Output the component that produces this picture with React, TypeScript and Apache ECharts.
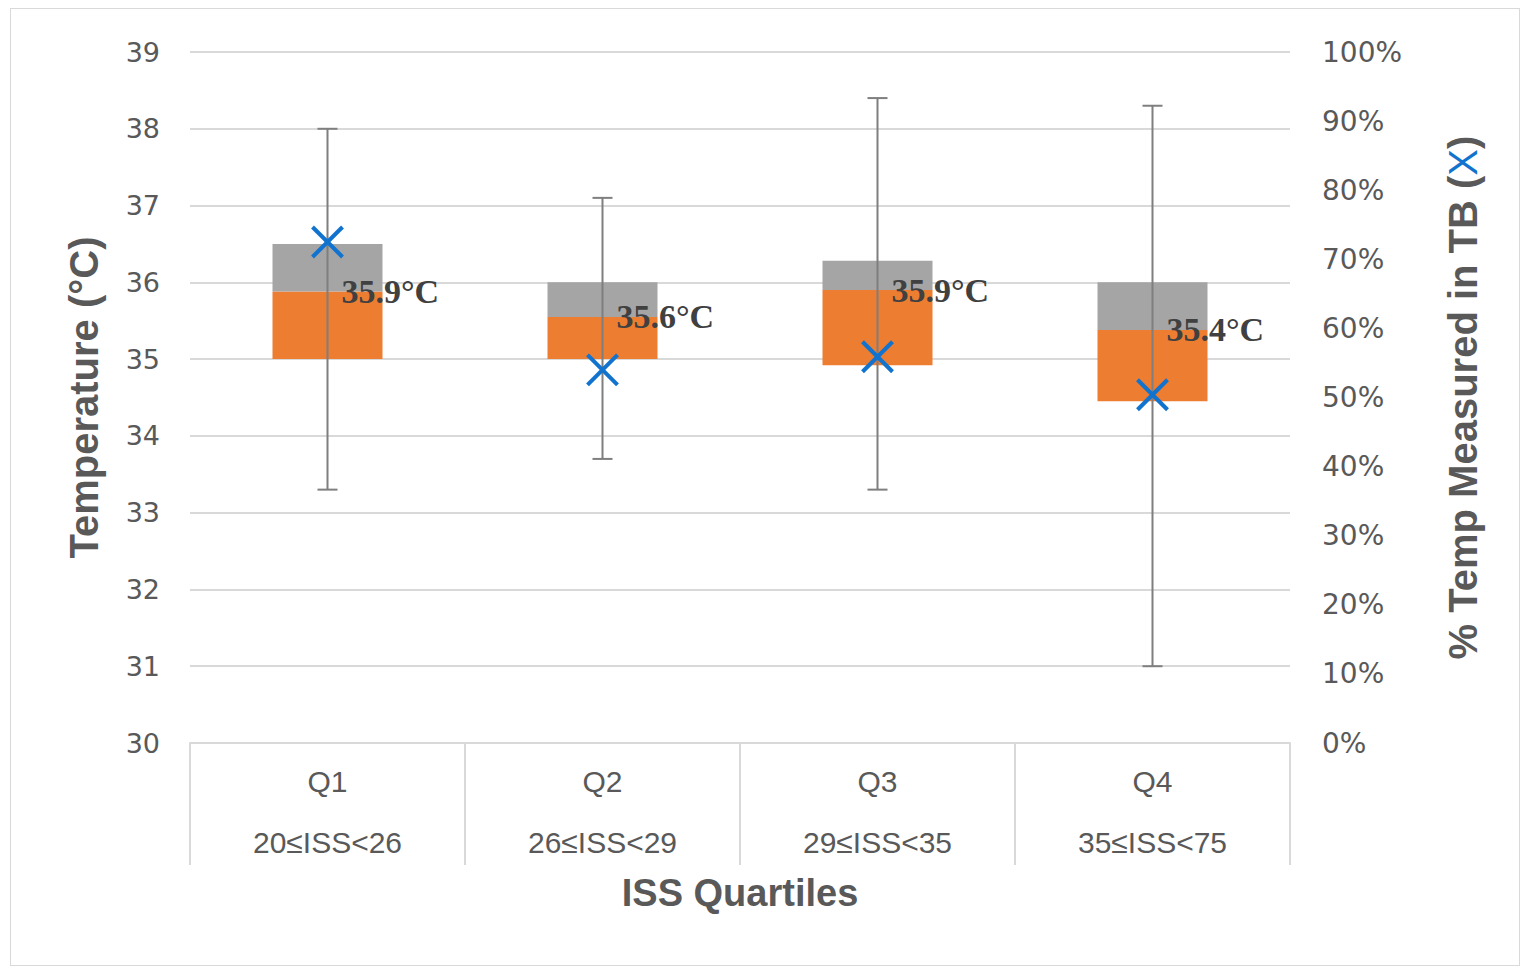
import React, { useEffect, useRef } from 'react';
import * as echarts from 'echarts';

// ---- data ----
const quartiles = ['Q1', 'Q2', 'Q3', 'Q4'];
const issRanges = ['20≤ISS<26', '26≤ISS<29', '29≤ISS<35', '35≤ISS<75'];
const whiskerLow = [33.3, 33.7, 33.3, 31.0];
const whiskerHigh = [38.0, 37.1, 38.4, 38.3];
const boxLow = [35.0, 35.0, 34.92, 34.45];
const medianTemp = [35.88, 35.55, 35.9, 35.38];
const boxHigh = [36.5, 36.0, 36.28, 36.0];
const medianLabels = ['35.9°C', '35.6°C', '35.9°C', '35.4°C'];
const pctMeasuredTB = [0.725, 0.54, 0.559, 0.504];

const tempMin = 30;
const tempMax = 39;
const tempStep = 1;
const pctMin = 0;
const pctMax = 1;
const pctStep = 0.1;

const ORANGE = '#ED7D31';
const GRAY = '#A5A5A5';
const WHISKER = '#7F7F7F';
const BLUE = '#1273CF';
const TEXT = '#595959';
const GRID = '#D9D9D9';

export default function App() {
  const ref = useRef<HTMLDivElement>(null);

  useEffect(() => {
    if (!ref.current) return;
    const chart = echarts.init(ref.current, undefined, { renderer: 'svg' });

    const boxData = quartiles.map((_, i) => [
      i,
      whiskerLow[i],
      boxLow[i],
      medianTemp[i],
      boxHigh[i],
      whiskerHigh[i],
    ]);
    const xData = quartiles.map((_, i) => [i, pctMeasuredTB[i]]);

    const option: any = {
      animation: false,
      backgroundColor: '#ffffff',
      grid: { left: 179, right: 229, top: 43, bottom: 222, containLabel: false },
      xAxis: {
        type: 'category',
        data: quartiles,
        boundaryGap: true,
        axisLine: { show: true, lineStyle: { color: GRID, width: 2 } },
        axisTick: {
          show: true,
          interval: 0,
          length: 122,
          lineStyle: { color: GRID, width: 2 },
        },
        axisLabel: {
          interval: 0,
          margin: 8,
          formatter: (v: string, idx: number) => `{q|${v}}\n{r|${issRanges[idx]}}`,
          rich: {
            q: { fontSize: 30, fontFamily: 'Liberation Sans', color: TEXT, lineHeight: 61 },
            r: { fontSize: 30, fontFamily: 'Liberation Sans', color: TEXT, lineHeight: 61 },
          },
        },
        name: 'ISS Quartiles',
        nameLocation: 'middle',
        nameGap: 131,
        nameTextStyle: {
          fontSize: 38,
          fontWeight: 'bold',
          fontFamily: 'Liberation Sans',
          color: TEXT,
        },
      },
      yAxis: [
        {
          type: 'value',
          min: tempMin,
          max: tempMax,
          interval: tempStep,
          position: 'left',
          axisLine: { show: false },
          axisTick: { show: false },
          splitLine: { show: true, lineStyle: { color: GRID, width: 2 } },
          axisLabel: {
            margin: 30,
            fontSize: 27,
            fontFamily: 'DejaVu Sans',
            color: TEXT,
          },
          name: 'Temperature (°C)',
          nameLocation: 'middle',
          nameRotate: 90,
          nameGap: 86,
          nameTextStyle: {
            fontSize: 40,
            fontWeight: 'bold',
            fontFamily: 'Liberation Sans',
            color: TEXT,
          },
        },
        {
          type: 'value',
          min: pctMin,
          max: pctMax,
          interval: pctStep,
          position: 'right',
          axisLine: { show: false },
          axisTick: { show: false },
          splitLine: { show: false },
          axisLabel: {
            margin: 32,
            fontSize: 28,
            fontFamily: 'DejaVu Sans',
            color: TEXT,
            formatter: (v: number) => `${Math.round(v * 100)}%`,
          },
          name: '% Temp Measured in TB ({x|X})',
          nameLocation: 'middle',
          nameRotate: 90,
          nameGap: 153,
          nameTextStyle: {
            fontSize: 40,
            fontWeight: 'bold',
            fontFamily: 'Liberation Sans',
            color: TEXT,
            rich: {
              x: {
                fontSize: 40,
                fontWeight: 'normal',
                fontFamily: 'Liberation Sans',
                color: BLUE,
              },
            },
          },
        },
      ],
      series: [
        {
          type: 'custom',
          name: 'Temperature',
          coordinateSystem: 'cartesian2d',
          xAxisIndex: 0,
          yAxisIndex: 0,
          encode: { x: 0, y: [1, 2, 3, 4, 5] },
          data: boxData,
          z: 2,
          renderItem: (params: any, api: any) => {
            const i = api.value(0);
            const cx = api.coord([i, api.value(3)])[0];
            const yWL = api.coord([i, api.value(1)])[1];
            const yBL = api.coord([i, api.value(2)])[1];
            const yMed = api.coord([i, api.value(3)])[1];
            const yBH = api.coord([i, api.value(4)])[1];
            const yWH = api.coord([i, api.value(5)])[1];
            const bw = api.size([1, 0])[0];
            const half = bw * 0.2;
            const cap = 10;
            return {
              type: 'group',
              children: [
                {
                  type: 'rect',
                  shape: { x: cx - half, y: yMed, width: half * 2, height: yBL - yMed },
                  style: { fill: ORANGE },
                },
                {
                  type: 'rect',
                  shape: { x: cx - half, y: yBH, width: half * 2, height: yMed - yBH },
                  style: { fill: GRAY },
                },
                {
                  type: 'line',
                  shape: { x1: cx, y1: yWL, x2: cx, y2: yWH },
                  style: { stroke: WHISKER, lineWidth: 2 },
                },
                {
                  type: 'line',
                  shape: { x1: cx - cap, y1: yWH, x2: cx + cap, y2: yWH },
                  style: { stroke: WHISKER, lineWidth: 2 },
                },
                {
                  type: 'line',
                  shape: { x1: cx - cap, y1: yWL, x2: cx + cap, y2: yWL },
                  style: { stroke: WHISKER, lineWidth: 2 },
                },
                {
                  type: 'text',
                  x: cx + 14,
                  y: yMed,
                  style: {
                    text: medianLabels[params.dataIndex],
                    fill: '#404040',
                    fontSize: 34,
                    fontWeight: 'bold',
                    fontFamily: 'Liberation Serif',
                    align: 'left',
                    verticalAlign: 'middle',
                  },
                },
              ],
            };
          },
        },
        {
          type: 'custom',
          name: '% Temp Measured in TB',
          coordinateSystem: 'cartesian2d',
          xAxisIndex: 0,
          yAxisIndex: 1,
          encode: { x: 0, y: 1 },
          data: xData,
          z: 5,
          renderItem: (params: any, api: any) => {
            const p = api.coord([api.value(0), api.value(1)]);
            const s = 15;
            return {
              type: 'group',
              children: [
                {
                  type: 'line',
                  shape: { x1: p[0] - s, y1: p[1] - s, x2: p[0] + s, y2: p[1] + s },
                  style: { stroke: BLUE, lineWidth: 4 },
                },
                {
                  type: 'line',
                  shape: { x1: p[0] - s, y1: p[1] + s, x2: p[0] + s, y2: p[1] - s },
                  style: { stroke: BLUE, lineWidth: 4 },
                },
              ],
            };
          },
        },
      ],
    };

    chart.setOption(option);
    return () => chart.dispose();
  }, []);

  return (
    <div
      style={{
        position: 'absolute',
        left: 10,
        top: 8,
        width: 1510,
        height: 958,
        boxSizing: 'border-box',
        border: '1px solid #D9D9D9',
        background: '#fff',
      }}
    >
      <div ref={ref} style={{ width: 1508, height: 956 }} />
    </div>
  );
}
